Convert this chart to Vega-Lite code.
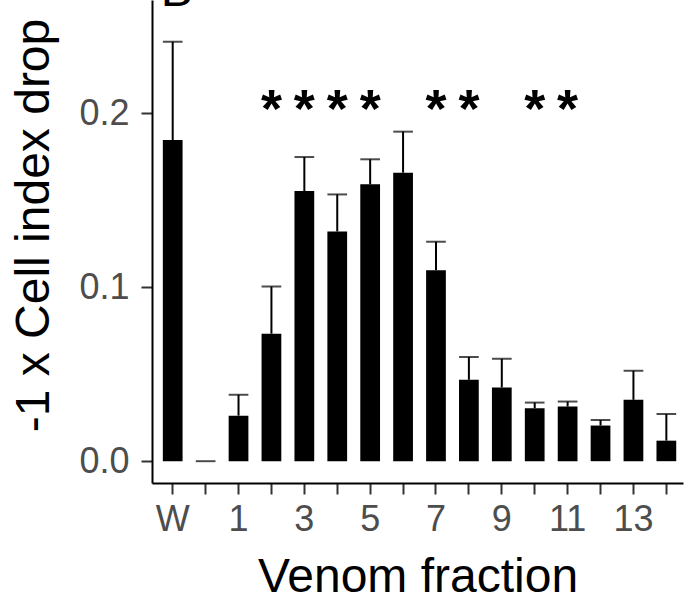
{
  "$schema": "https://vega.github.io/schema/vega-lite/v6.json",
  "width": 531,
  "height": 483,
  "autosize": {"type": "none"},
  "padding": {"left": 152, "top": 0, "right": 1, "bottom": 113},
  "background": "white",
  "config": {
    "view": {"stroke": null},
    "font": "Liberation Sans"
  },
  "data": {
    "values": [
      {"fraction": "W", "mean": 0.1847, "upper": 0.2412, "sig": ""},
      {"fraction": "0", "mean": 0.0, "upper": 0.0, "sig": ""},
      {"fraction": "1", "mean": 0.0262, "upper": 0.0382, "sig": ""},
      {"fraction": "2", "mean": 0.0733, "upper": 0.1004, "sig": "*"},
      {"fraction": "3", "mean": 0.1553, "upper": 0.1749, "sig": "*"},
      {"fraction": "4", "mean": 0.1321, "upper": 0.1534, "sig": "*"},
      {"fraction": "5", "mean": 0.1592, "upper": 0.1736, "sig": "*"},
      {"fraction": "6", "mean": 0.1659, "upper": 0.1895, "sig": ""},
      {"fraction": "7", "mean": 0.1098, "upper": 0.1262, "sig": "*"},
      {"fraction": "8", "mean": 0.0468, "upper": 0.0599, "sig": "*"},
      {"fraction": "9", "mean": 0.0424, "upper": 0.0589, "sig": ""},
      {"fraction": "10", "mean": 0.0305, "upper": 0.0337, "sig": "*"},
      {"fraction": "11", "mean": 0.0314, "upper": 0.0343, "sig": "*"},
      {"fraction": "12", "mean": 0.0205, "upper": 0.0237, "sig": ""},
      {"fraction": "13", "mean": 0.0353, "upper": 0.052, "sig": ""},
      {"fraction": "14", "mean": 0.0118, "upper": 0.0272, "sig": ""}
    ]
  },
  "encoding": {
    "x": {
      "field": "fraction",
      "type": "nominal",
      "sort": ["W", "0", "1", "2", "3", "4", "5", "6", "7", "8", "9", "10", "11", "12", "13", "14"],
      "scale": {"paddingInner": 0.4, "paddingOuter": 0.2675, "align": 0.615},
      "axis": {
        "title": "Venom fraction",
        "titleFont": "Liberation Sans",
        "titleFontSize": 48,
        "titleFontWeight": "normal",
        "titleColor": "black",
        "titleBaseline": "alphabetic",
        "titleY": 108,
        "labelExpr": "indexof(['W','1','3','5','7','9','11','13'], datum.label) >= 0 ? datum.label : ''",
        "labelFont": "Liberation Sans",
        "labelFontSize": 36,
        "labelColor": "#4D4D4D",
        "labelAngle": 0,
        "labelPadding": 8,
        "tickSize": 11,
        "tickWidth": 2,
        "tickColor": "#333333",
        "domainColor": "black",
        "domainWidth": 2,
        "grid": false
      }
    }
  },
  "layer": [
    {
      "mark": {"type": "bar", "color": "black"},
      "encoding": {
        "y": {
          "field": "mean",
          "type": "quantitative",
          "scale": {"domain": [-0.01254, 0.2652], "nice": false, "zero": false},
          "axis": {
            "title": "-1 x Cell index drop",
            "titleFont": "Liberation Sans",
            "titleFontSize": 48,
            "titleFontWeight": "normal",
            "titleColor": "black",
            "titleAngle": -90,
            "titleAlign": "center",
            "titleBaseline": "alphabetic",
            "titleX": -104,
            "titleY": 225,
            "values": [0, 0.1, 0.2],
            "format": ".1f",
            "labelFont": "Liberation Sans",
            "labelFontSize": 36,
            "labelColor": "#4D4D4D",
            "labelPadding": 12,
            "tickSize": 11,
            "tickWidth": 2,
            "tickColor": "#333333",
            "domainColor": "black",
            "domainWidth": 2,
            "grid": false
          }
        },
        "y2": {"datum": 0}
      }
    },
    {
      "mark": {"type": "rule", "color": "black", "strokeWidth": 2},
      "encoding": {
        "y": {"field": "mean", "type": "quantitative"},
        "y2": {"field": "upper"}
      }
    },
    {
      "mark": {"type": "tick", "color": "black", "thickness": 2, "size": 19.7, "orient": "horizontal"},
      "encoding": {
        "y": {"field": "upper", "type": "quantitative"}
      }
    },
    {
      "transform": [{"filter": "datum.sig != ''"}],
      "mark": {"type": "text", "fontSize": 54, "fontWeight": "bold", "baseline": "alphabetic", "color": "black", "font": "Liberation Sans"},
      "encoding": {
        "y": {"datum": 0.192},
        "text": {"field": "sig"}
      }
    },
    {
      "data": {"values": [{"panel": "B"}]},
      "mark": {"type": "text", "fontSize": 48, "baseline": "alphabetic", "align": "left", "dx": -12, "color": "black", "font": "Liberation Sans"},
      "encoding": {
        "x": {"datum": "W"},
        "y": {"datum": 0.2618},
        "text": {"field": "panel"}
      }
    }
  ]
}
